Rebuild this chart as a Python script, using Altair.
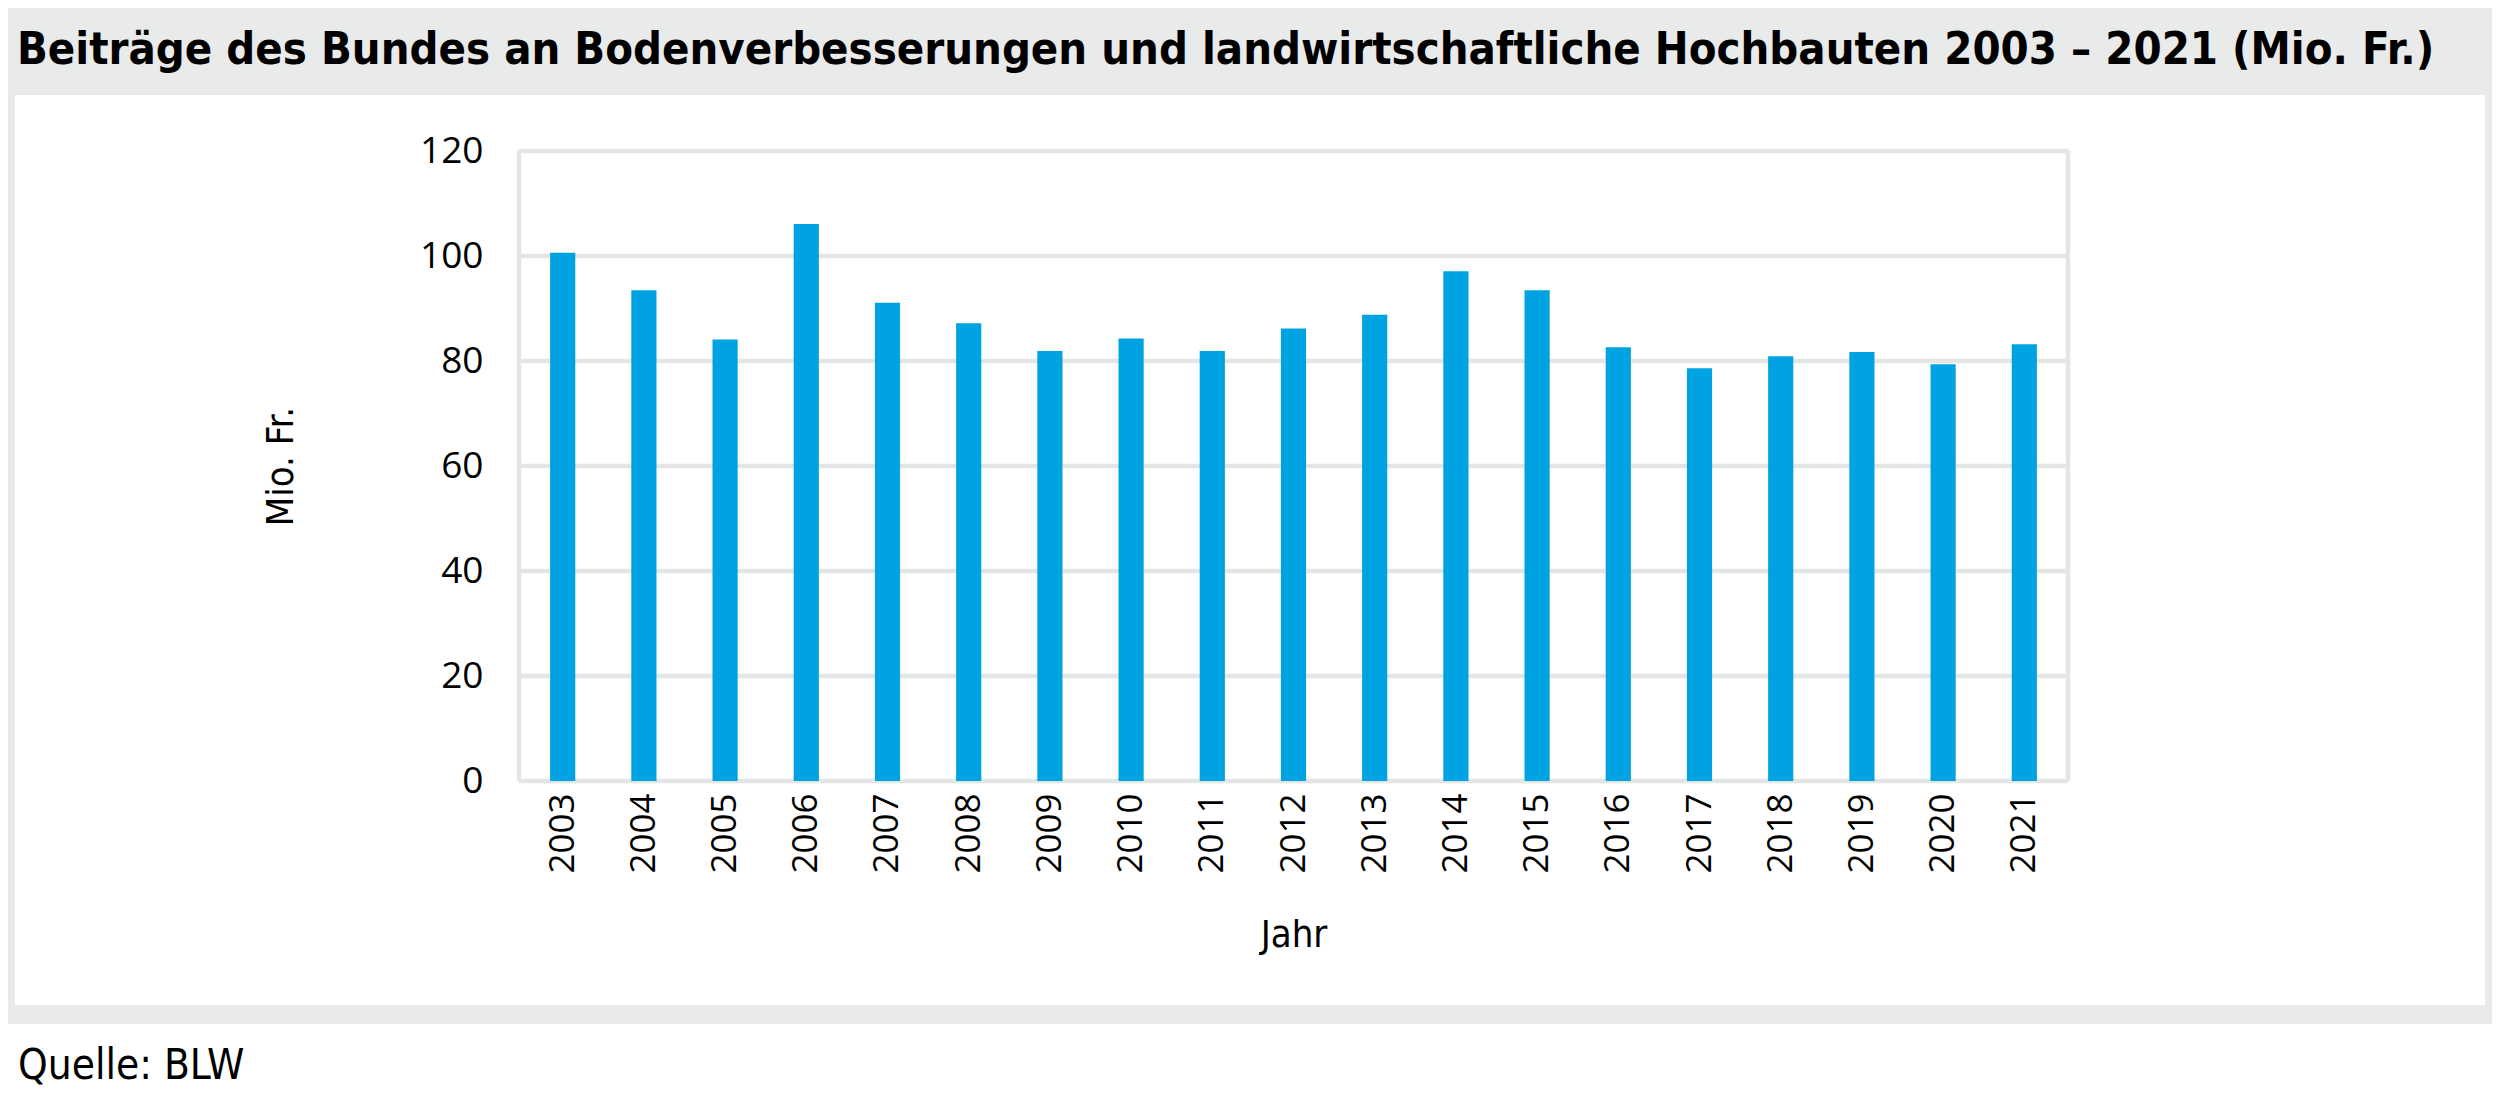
import altair as alt
import pandas as pd

years = [str(y) for y in range(2003, 2022)]
values = [100.6, 93.5, 84.1, 106.1, 91.1, 87.2, 81.9, 84.3, 81.9, 86.2,
          88.8, 97.1, 93.5, 82.6, 78.6, 80.9, 81.7, 79.4, 83.2]
y_ticks = [0, 20, 40, 60, 80, 100, 120]
title_text = "Beiträge des Bundes an Bodenverbesserungen und landwirtschaftliche Hochbauten 2003 – 2021 (Mio. Fr.)"
source_text = "Quelle: BLW"
x_title = "Jahr"
y_title = "Mio. Fr."

W, H = 1549, 630
GRAY = "#e9eaea"
GRID = "#e4e5e5"
BLUE = "#00a3e2"
FONT = "Open Sans"
FONT_C = "DejaVu Sans Condensed, Roboto, sans-serif"

df = pd.DataFrame({"Jahr": years, "Wert": values})
one = pd.DataFrame({"k": [0]})
ticks_df = pd.DataFrame({"v": y_ticks})

bg = alt.Chart(one).mark_rect(color=GRAY).encode(
    x=alt.value(-511), x2=alt.value(1973), y=alt.value(-143), y2=alt.value(873))
panel = alt.Chart(one).mark_rect(color="white").encode(
    x=alt.value(-504), x2=alt.value(1966), y=alt.value(-56), y2=alt.value(854))

yscale = alt.Scale(domain=[0, 120], nice=False)

grid = alt.Chart(ticks_df).mark_rule(color=GRID, strokeWidth=4.5).encode(
    y=alt.Y("v:Q", scale=yscale), x=alt.value(0), x2=alt.value(W))
vborder = alt.Chart(pd.DataFrame({"p": [0, W]})).mark_rule(color=GRID, strokeWidth=4.5).encode(
    x=alt.X("p:Q", scale=None), y=alt.value(0), y2=alt.value(H))

bars = alt.Chart(df).mark_bar(color=BLUE).encode(
    x=alt.X("Jahr:N", sort=years,
            scale=alt.Scale(paddingInner=0.69, paddingOuter=0.383),
            axis=alt.Axis(title=x_title, labelAngle=-90, labelAlign="right", labelBaseline="middle",
                          labelPadding=12, ticks=False, domain=False, grid=False, zindex=1,
                          labelFont=FONT, labelFontSize=35, labelColor="black",
                          titleFont=FONT_C, titleFontSize=38, titleFontWeight="normal", titleColor="black",
                          titleX=W / 2, titleY=165, titleBaseline="alphabetic", titleAlign="center")),
    y=alt.Y("Wert:Q", scale=yscale,
            axis=alt.Axis(title=y_title, values=y_ticks, ticks=False, domain=False, grid=False, zindex=1,
                          labelPadding=36, labelFont=FONT, labelFontSize=37, labelColor="black",
                          titleFont=FONT_C, titleFontSize=38, titleFontWeight="normal", titleColor="black",
                          titleAngle=-90, titleX=-238, titleY=H / 2, titleBaseline="middle",
                          titleAlign="center")),
)

title = alt.Chart(one).mark_text(text=title_text, font=FONT_C, fontSize=45, fontWeight="bold",
                                 align="left", baseline="alphabetic", color="black").encode(
    x=alt.value(-502), y=alt.value(-87))
source = alt.Chart(one).mark_text(text=source_text, font=FONT_C, fontSize=42,
                                  align="left", baseline="alphabetic", color="black").encode(
    x=alt.value(-501), y=alt.value(928))

chart = alt.layer(bg, panel, grid, vborder, bars, title, source).resolve_scale(
    x="independent"
).properties(
    width=W, height=H,
    autosize=alt.AutoSizeParams(type="none"),
    padding={"left": 511, "top": 143, "right": 424, "bottom": 312},
    background="white",
).configure_view(stroke=None)

chart.save("out.html", embed_options={"renderer": "svg", "actions": False})
